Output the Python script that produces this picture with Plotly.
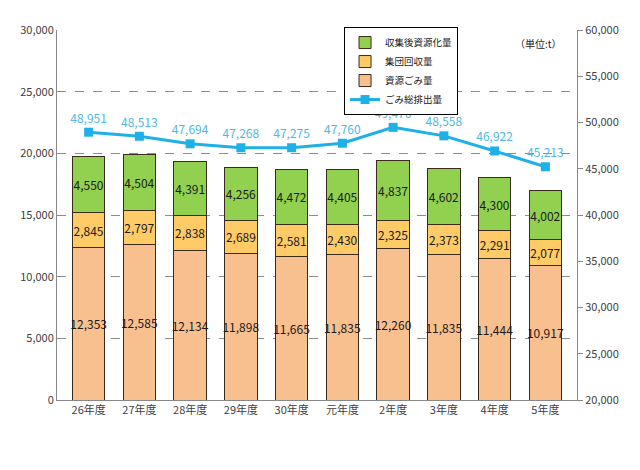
import plotly.graph_objects as go

categories = ["26年度", "27年度", "28年度", "29年度", "30年度", "元年度", "2年度", "3年度", "4年度", "5年度"]
shigen_gomi = [12353, 12585, 12134, 11898, 11665, 11835, 12260, 11835, 11444, 10917]
shudan_kaishu = [2845, 2797, 2838, 2689, 2581, 2430, 2325, 2373, 2291, 2077]
shushugo_shigenka = [4550, 4504, 4391, 4256, 4472, 4405, 4837, 4602, 4300, 4002]
gomi_sohaishutsu = [48951, 48513, 47694, 47268, 47275, 47760, 49476, 48558, 46922, 45213]

FONT = "Noto Sans CJK JP"
bar_text_font = dict(family=FONT, size=12, color="#1a1a1a")

fig = go.Figure()

def add_bar(vals, name, color, rank):
    fig.add_trace(go.Bar(
        x=categories, y=vals, name=name, legendrank=rank,
        marker=dict(color=color, line=dict(color="#3b2a1a", width=1)),
        text=[f"{v:,}" for v in vals], textposition="inside",
        insidetextanchor="middle", textfont=bar_text_font, textangle=0,
        constraintext="none", cliponaxis=False,
    ))

add_bar(shigen_gomi, "資源ごみ量", "#F9C08F", 3)
add_bar(shudan_kaishu, "集団回収量", "#FFCB66", 2)
add_bar(shushugo_shigenka, "収集後資源化量", "#92D050", 1)

fig.add_trace(go.Scatter(
    x=categories, y=gomi_sohaishutsu, name="ごみ総排出量", yaxis="y2",
    legendrank=4,
    mode="lines+markers+text",
    line=dict(color="#1FB0E8", width=3),
    marker=dict(symbol="square", size=9, color="#1FB0E8"),
    text=[f"{v:,}" for v in gomi_sohaishutsu], textposition="top center",
    textfont=dict(family=FONT, size=12, color="#4FB8E4"),
))

fig.update_layout(
    width=640, height=470,
    margin=dict(l=47, r=71, t=22, b=78),
    barmode="stack", bargap=0.36,
    paper_bgcolor="white", plot_bgcolor="white",
    font=dict(family=FONT, size=11, color="#404040"),
    showlegend=True,
    legend=dict(
        x=0.552, y=1.008, xanchor="left", yanchor="top",
        bordercolor="#000000", borderwidth=1, bgcolor="white",
        traceorder="normal",
        font=dict(family=FONT, size=9.5, color="#1a1a1a"),
        itemwidth=30, tracegroupgap=0,
    ),
    xaxis=dict(
        showline=True, linecolor="#888888", linewidth=1,
        tickfont=dict(family=FONT, size=11, color="#404040"),
        ticks="", showgrid=False,
    ),
    yaxis=dict(
        range=[0, 30000], dtick=5000, tickformat=",",
        showline=True, linecolor="#888888", linewidth=1,
        showgrid=True, gridcolor="#8c8c8c", griddash="dash", gridwidth=1,
        ticks="", zeroline=False,
        tickfont=dict(family=FONT, size=11, color="#404040"),
    ),
    yaxis2=dict(
        range=[20000, 60000], dtick=5000, tickformat=",",
        overlaying="y", side="right",
        showline=True, linecolor="#888888", linewidth=1,
        ticks="outside", ticklen=5, tickcolor="#888888",
        showgrid=False, zeroline=False,
        tickfont=dict(family=FONT, size=11, color="#404040"),
    ),
    annotations=[dict(
        text="（単位:t）", xref="paper", yref="paper", x=0.975, y=0.99,
        xanchor="right", yanchor="top", showarrow=False,
        font=dict(family=FONT, size=10, color="#1a1a1a"),
    )],
)

fig.write_html("out.html")
